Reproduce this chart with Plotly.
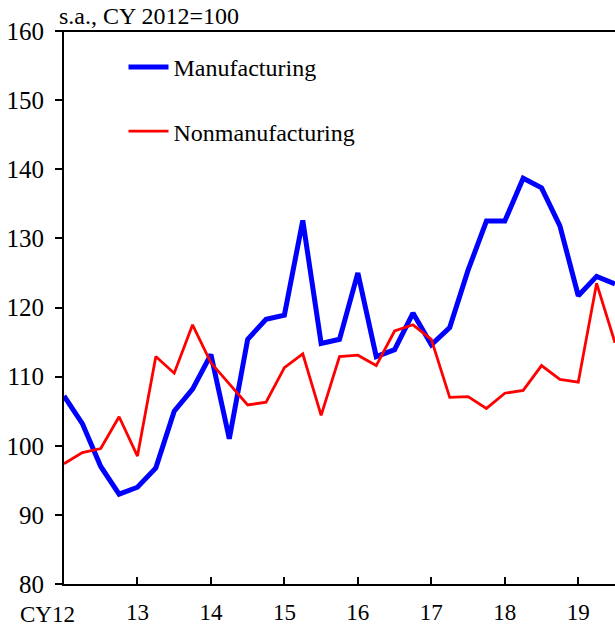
import plotly.graph_objects as go

quarters = list(range(31))  # 12Q1 .. 19Q3
year_ticks = [0, 4, 8, 12, 16, 20, 24, 28]
year_labels = ["", "13", "14", "15", "16", "17", "18", "19"]

manufacturing = [107.2, 103.2, 97.0, 93.0, 94.0, 96.8, 105.0, 108.2, 113.2, 101.0,
                 115.4, 118.3, 118.9, 132.6, 114.8, 115.4, 125.0, 112.9, 113.9, 119.2,
                 114.6, 117.1, 125.4, 132.5, 132.5, 138.7, 137.3, 131.8, 121.7, 124.5,
                 123.4]
nonmanufacturing = [97.4, 99.0, 99.6, 104.2, 98.5, 112.9, 110.5, 117.5, 112.0, 109.0,
                    105.9, 106.3, 111.3, 113.3, 104.4, 112.9, 113.1, 111.6, 116.6, 117.5,
                    115.4, 107.0, 107.1, 105.4, 107.6, 108.0, 111.6, 109.6, 109.2, 123.5,
                    114.9]

FONT = "Liberation Serif"

fig = go.Figure()
fig.add_trace(go.Scatter(x=quarters, y=manufacturing, mode="lines", name="Manufacturing",
                         line=dict(color="#0000FF", width=5), legendgroup="a"))
fig.add_trace(go.Scatter(x=quarters, y=nonmanufacturing, mode="lines", name="Nonmanufacturing",
                         line=dict(color="#FF0000", width=2.8), legendgroup="b"))

fig.update_layout(
    width=615, height=628,
    margin=dict(l=64, r=0, t=31, b=44, autoexpand=False),
    paper_bgcolor="white", plot_bgcolor="white",
    font=dict(family=FONT, size=23, color="black"),
    showlegend=True,
    legend=dict(x=0.108, y=0.975, xanchor="left", yanchor="top",
                bgcolor="rgba(0,0,0,0)", font=dict(family=FONT, size=24),
                tracegroupgap=30, itemwidth=40),
    xaxis=dict(range=[0, 30], tickvals=year_ticks, ticktext=year_labels,
               ticks="inside", ticklen=7, tickwidth=1.5, tickcolor="black",
               showline=True, linecolor="black", linewidth=2,
               showgrid=False, zeroline=False, automargin=False,
               ticklabelstandoff=6,
               tickfont=dict(family=FONT, size=23)),
    yaxis=dict(range=[80, 160], dtick=10, ticks="outside", ticklen=7, tickwidth=1.5,
               tickcolor="black", showline=True, linecolor="black", linewidth=2,
               showgrid=False, zeroline=False, automargin=False,
               ticklabelstandoff=6,
               tickfont=dict(family=FONT, size=25)),
)

# top frame line
fig.add_shape(type="line", xref="paper", yref="paper", x0=-0.013, x1=1, y0=1, y1=1,
              line=dict(color="black", width=2))

fig.add_annotation(text="s.a., CY 2012=100", xref="paper", yref="paper", x=0, y=1,
                   xanchor="left", yanchor="bottom", xshift=-7, yshift=0, showarrow=False,
                   font=dict(family=FONT, size=24))
fig.add_annotation(text="CY12", xref="x", yref="paper", x=0, y=0,
                   xanchor="center", yanchor="top", xshift=-17, yshift=-16, showarrow=False,
                   font=dict(family=FONT, size=23))

fig.write_html("out.html", config={"displayModeBar": False},
               post_script="document.body.style.margin='0';document.body.style.overflow='hidden';")
